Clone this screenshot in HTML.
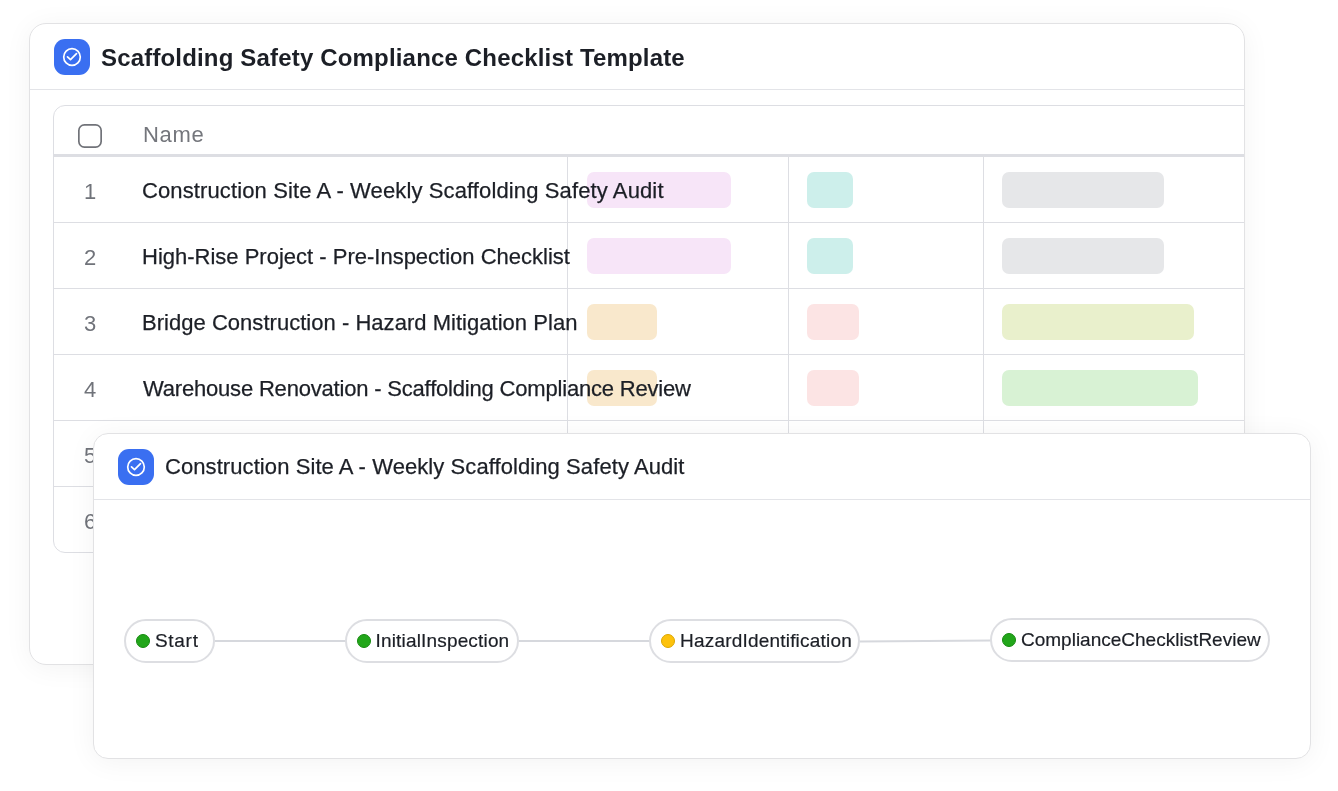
<!DOCTYPE html>
<html>
<head>
<meta charset="utf-8">
<style>
*{box-sizing:border-box;margin:0;padding:0}
html,body{width:1338px;height:791px;background:#fff;overflow:hidden;font-family:"Liberation Sans",Arial,sans-serif;color:#1c1f26}
.card{position:absolute;will-change:transform;background:#fff;border:1px solid #e2e2e4;overflow:hidden;box-shadow:0 3px 28px rgba(0,0,0,0.05)}
#c1{left:29px;top:23px;width:1216px;height:642px;border-radius:17px}
#c2{left:93px;top:433px;width:1218px;height:326px;border-radius:15px}
.ico{position:absolute;width:36px;height:36px;border-radius:11px;background:#3a6ff1}
.ico svg{position:absolute;left:0;top:0}
.hline{position:absolute;left:0;right:0;height:1px;background:#e3e4e8}
.ttl{position:absolute;white-space:nowrap;line-height:1}
#tbl{position:absolute;left:23px;top:81px;width:1300px;height:448px;border:1px solid #dddee3;border-radius:12px;overflow:hidden}
.ab{position:absolute}
.rl{position:absolute;left:0;right:0;height:1px;background:#dddee3}
.vl{position:absolute;width:1px;background:#dddee3}
.num{position:absolute;width:20px;text-align:center;font-size:22px;color:#70737a;line-height:1}
.nm{position:absolute;white-space:nowrap;font-size:22px;line-height:1;color:#1c1f26;-webkit-text-stroke:0.25px currentColor}
.pill{position:absolute;height:36px;border-radius:7px}
.node{position:absolute;height:44px;border:2px solid #dddee2;border-radius:22px;background:#fff;white-space:nowrap}
.node .dot{position:absolute;left:10px;top:13px;width:14px;height:14px;border-radius:50%}
.node .lb{position:absolute;-webkit-text-stroke:0.2px currentColor;left:28px;top:9.7px;font-size:19px;line-height:1;color:#1c1f26}
.g{background:#22a61a;border:1.5px solid #168a0f}
.y{background:#fdc20c;border:1.5px solid #dca600}
.edge{position:absolute;height:2px;background:#d6d8dd}
</style>
</head>
<body>
<div class="card" id="c1">
  <div class="ico" style="left:24px;top:15px">
    <svg width="36" height="36" viewBox="0 0 36 36"><circle cx="18" cy="18" r="8.3" fill="none" stroke="#fff" stroke-width="1.7"/><path d="M13.5 17.8L16.5 20.6L22.5 14.7" fill="none" stroke="#fff" stroke-width="1.7" stroke-linecap="round" stroke-linejoin="round"/></svg>
  </div>
  <div class="ttl" style="left:71px;top:21.5px;font-size:24px;font-weight:700;color:#1c1f26;letter-spacing:0.17px">Scaffolding Safety Compliance Checklist Template</div>
  <div class="hline" style="top:65px"></div>
  <div id="tbl">
    <svg class="ab" style="left:24px;top:18px" width="24" height="24" viewBox="0 0 24 24"><rect x="0.85" y="0.85" width="22.3" height="22.3" rx="5.6" fill="none" stroke="#717379" stroke-width="1.7"/></svg>
    <div class="nm" style="left:89px;top:17.5px;color:#74767c;letter-spacing:0.7px;-webkit-text-stroke:0">Name</div>
    <div class="rl" style="top:48px;height:3px"></div>
    <div class="vl" style="left:513px;top:51px;height:400px"></div>
    <div class="vl" style="left:734px;top:51px;height:400px"></div>
    <div class="vl" style="left:929px;top:51px;height:400px"></div>
    <div class="rl" style="top:116px"></div>
    <div class="rl" style="top:182px"></div>
    <div class="rl" style="top:248px"></div>
    <div class="rl" style="top:314px"></div>
    <div class="rl" style="top:380px"></div>

    <div class="pill" style="left:533px;top:66px;width:144px;background:#f7e5f8"></div>
    <div class="pill" style="left:753px;top:66px;width:46px;background:#cdefeb"></div>
    <div class="pill" style="left:948px;top:66px;width:162px;background:#e6e7e9"></div>

    <div class="pill" style="left:533px;top:132px;width:144px;background:#f7e5f8"></div>
    <div class="pill" style="left:753px;top:132px;width:46px;background:#cdefeb"></div>
    <div class="pill" style="left:948px;top:132px;width:162px;background:#e6e7e9"></div>

    <div class="pill" style="left:533px;top:198px;width:70px;background:#f9e8cc"></div>
    <div class="pill" style="left:753px;top:198px;width:52px;background:#fce4e4"></div>
    <div class="pill" style="left:948px;top:198px;width:192px;background:#e9f0cc"></div>

    <div class="pill" style="left:533px;top:264px;width:70px;background:#f9e8cc"></div>
    <div class="pill" style="left:753px;top:264px;width:52px;background:#fce4e4"></div>
    <div class="pill" style="left:948px;top:264px;width:196px;background:#d8f2d4"></div>

    <div class="num" style="left:26px;top:74.5px">1</div>
    <div class="num" style="left:26px;top:140.5px">2</div>
    <div class="num" style="left:26px;top:206.5px">3</div>
    <div class="num" style="left:26px;top:272.5px">4</div>
    <div class="num" style="left:26px;top:338.5px">5</div>
    <div class="num" style="left:26px;top:404.5px">6</div>

    <div class="nm" style="left:88px;top:73.5px;letter-spacing:0.12px">Construction Site A - Weekly Scaffolding Safety Audit</div>
    <div class="nm" style="left:88px;top:139.5px;letter-spacing:0px">High-Rise Project - Pre-Inspection Checklist</div>
    <div class="nm" style="left:88px;top:205.5px;letter-spacing:0.03px">Bridge Construction - Hazard Mitigation Plan</div>
    <div class="nm" style="left:89px;top:271.5px;letter-spacing:-0.19px">Warehouse Renovation - Scaffolding Compliance Review</div>
  </div>
</div>

<div class="card" id="c2">
  <div class="ico" style="left:24px;top:15px">
    <svg width="36" height="36" viewBox="0 0 36 36"><circle cx="18" cy="18" r="8.3" fill="none" stroke="#fff" stroke-width="1.7"/><path d="M13.5 17.8L16.5 20.6L22.5 14.7" fill="none" stroke="#fff" stroke-width="1.7" stroke-linecap="round" stroke-linejoin="round"/></svg>
  </div>
  <div class="ttl" style="left:71px;top:22px;font-size:22px;color:#1c1f26;letter-spacing:0.08px;-webkit-text-stroke:0.25px currentColor">Construction Site A - Weekly Scaffolding Safety Audit</div>
  <div class="hline" style="top:65px"></div>

  <div class="edge" style="left:121px;top:206px;width:133px"></div>
  <div class="edge" style="left:425px;top:206px;width:132px"></div>
  <div class="edge" style="left:766px;top:206px;width:132px;transform:rotate(-0.4deg)"></div>

  <div class="node" style="left:30px;top:185px;width:91px"><span class="dot g"></span><span class="lb" style="left:29px;letter-spacing:0.7px">Start</span></div>
  <div class="node" style="left:251px;top:185px;width:174px"><span class="dot g"></span><span class="lb" style="left:28.5px;letter-spacing:0.17px">InitialInspection</span></div>
  <div class="node" style="left:555px;top:185px;width:211px"><span class="dot y"></span><span class="lb" style="left:29px;letter-spacing:0.2px">HazardIdentification</span></div>
  <div class="node" style="left:896px;top:184px;width:280px"><span class="dot g"></span><span class="lb" style="left:29px">ComplianceChecklistReview</span></div>
</div>
</body>
</html>
